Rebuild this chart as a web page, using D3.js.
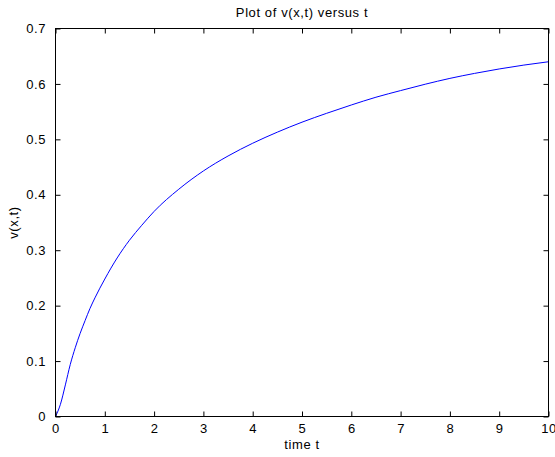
<!DOCTYPE html>
<html><head><meta charset="utf-8">
<script src="https://cdn.jsdelivr.net/npm/d3@7"></script>
<style>body{margin:0;background:#fff}svg{display:block}text{font-family:Arial,"Liberation Sans",Helvetica,sans-serif;fill:#000;letter-spacing:0.6px}</style>
</head><body>
<script>
const tValues = [0,0.1,0.2,0.3,0.4,0.5,0.6,0.7,0.8,1.0,1.25,1.5,1.75,2.0,2.5,3.0,3.5,4.0,4.5,5.0,5.5,6.0,6.5,7.0,7.5,8.0,8.5,9.0,9.5,10];
const vValues = [0,0.022,0.057,0.094,0.124,0.150,0.173,0.195,0.214,0.248,0.286,0.318,0.345,0.370,0.410,0.443,0.470,0.493,0.513,0.531,0.547,0.562,0.576,0.588,0.5995,0.610,0.619,0.627,0.634,0.640];
const xTicks = [0,1,2,3,4,5,6,7,8,9,10];
const yTicks = [0,0.1,0.2,0.3,0.4,0.5,0.6,0.7];
const title = "Plot of v(x,t) versus t";
const xLabel = "time t";
const yLabel = "v(x,t)";

const W=555,H=457, L=55.5,R=548.5,T=28.5,B=416.5;
const svg=d3.select("body").append("svg").attr("width",W).attr("height",H);
const x=d3.scaleLinear().domain([0,10]).range([L,R]);
const y=d3.scaleLinear().domain([0,0.7]).range([B,T]);
const fs=13;
const data=tValues.map((t,i)=>[t,vValues[i]]);

svg.append("path").datum(data).attr("fill","none").attr("stroke","#0000ff").attr("stroke-width",1)
  .attr("d",d3.line().x(d=>x(d[0])).y(d=>y(d[1])).curve(d3.curveMonotoneX));

const fmt=d=>d===0?"0":String(d);
const gBottom=svg.append("g").attr("transform",`translate(0,${B})`).call(d3.axisBottom(x).tickValues(xTicks).tickSize(-5).tickPadding(7).tickFormat(fmt));
const gTop=svg.append("g").attr("transform",`translate(0,${T})`).call(d3.axisTop(x).tickValues(xTicks).tickSize(-5).tickFormat(""));
const gLeft=svg.append("g").attr("transform",`translate(${L},0)`).call(d3.axisLeft(y).tickValues(yTicks).tickSize(-5).tickPadding(10).tickFormat(fmt));
const gRight=svg.append("g").attr("transform",`translate(${R},0)`).call(d3.axisRight(y).tickValues(yTicks).tickSize(-5).tickFormat(""));
[gBottom,gTop,gLeft,gRight].forEach(g=>{
  g.select(".domain").remove();
  g.selectAll(".tick line").attr("stroke","#000");
  g.selectAll("text").attr("font-size",fs).attr("font-family",null).attr("fill","#000");
});
gLeft.selectAll("text").attr("dx","0.6px");
svg.append("rect").attr("x",L).attr("y",T).attr("width",R-L).attr("height",B-T).attr("fill","none").attr("stroke","#000").attr("stroke-width",1);

svg.append("text").attr("x",(L+R)/2).attr("y",17).attr("text-anchor","middle").attr("font-size",fs).text(title);
svg.append("text").attr("x",(L+R)/2).attr("y",449).attr("text-anchor","middle").attr("font-size",fs).text(xLabel);
svg.append("text").attr("transform",`translate(18,${(T+B)/2}) rotate(-90)`).attr("text-anchor","middle").attr("font-size",fs).text(yLabel);
</script>
</body></html>
